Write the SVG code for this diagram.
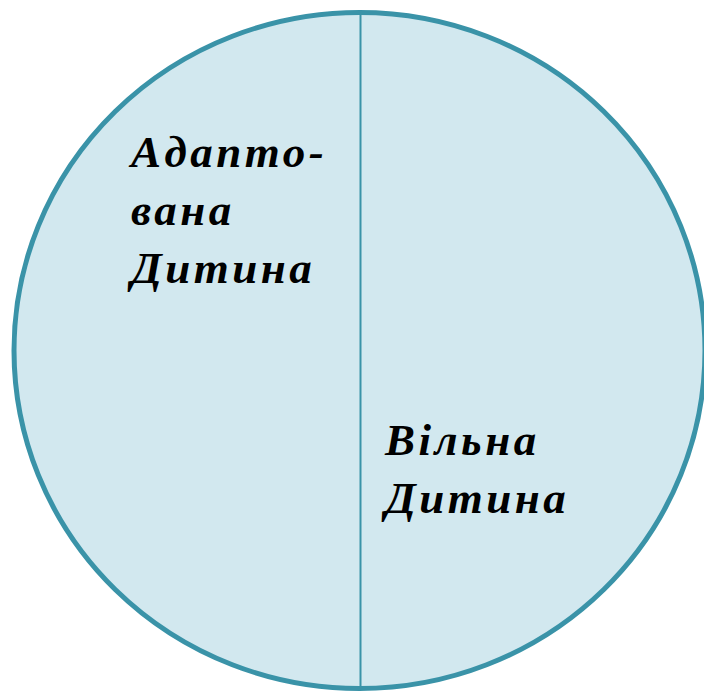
<svg xmlns="http://www.w3.org/2000/svg" width="704" height="693" viewBox="0 0 704 693">
<style>
.lbl{font-family:"Liberation Serif","DejaVu Serif",serif;font-style:italic;font-weight:bold;font-size:45px;fill:#000;letter-spacing:3.5px}
</style>
<rect width="704" height="693" fill="#fff"/>
<g id="circle">
<ellipse cx="359.5" cy="350.5" rx="345.5" ry="338" fill="#D2E8EF" stroke="#3A93A8" stroke-width="5"/>
</g>
<g id="connectors">
<line x1="360.5" y1="13" x2="360.5" y2="688" stroke="#3A93A8" stroke-width="2"/>
</g>
<g id="adapted">
<text class="lbl" x="131" y="167">Адапто-</text>
<text class="lbl" x="131" y="225">вана</text>
<text class="lbl" x="131" y="283">Дитина</text>
</g>
<g id="free">
<text class="lbl" x="385" y="455">Вільна</text>
<text class="lbl" x="385" y="513">Дитина</text>
</g>
</svg>
